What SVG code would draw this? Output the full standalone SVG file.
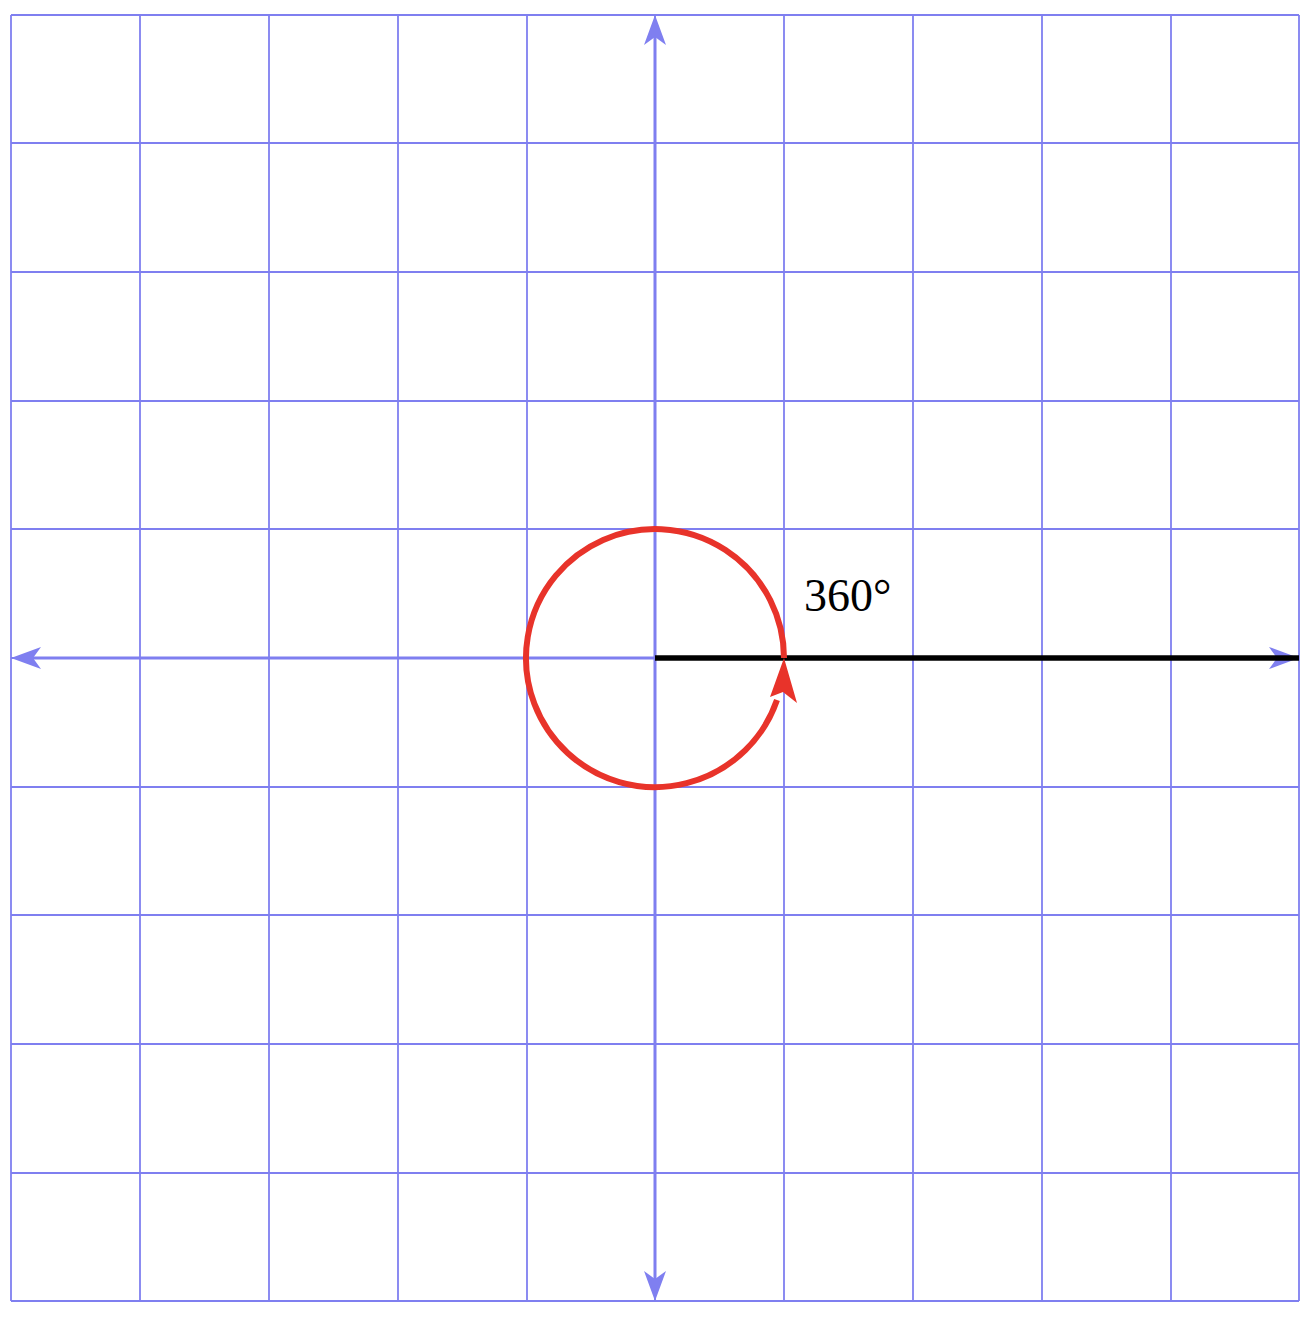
<svg xmlns="http://www.w3.org/2000/svg" width="1312" height="1318" viewBox="0 0 1312 1318">
<style>
.grid line{stroke:#7f7ff0;stroke-width:1.8}
.axis{stroke:#7f7ff0;stroke-width:3;fill:none}
.ah{fill:#7f7ff0}
.label{font-family:"Liberation Serif","DejaVu Serif",serif;font-size:46px;fill:#000}
</style>
<rect width="1312" height="1318" fill="#fff"/>
<g id="grid" class="grid">
<line x1="11" y1="15" x2="11" y2="1301"/>
<line x1="140" y1="15" x2="140" y2="1301"/>
<line x1="269" y1="15" x2="269" y2="1301"/>
<line x1="398" y1="15" x2="398" y2="1301"/>
<line x1="527" y1="15" x2="527" y2="1301"/>
<line x1="655" y1="15" x2="655" y2="1301"/>
<line x1="784" y1="15" x2="784" y2="1301"/>
<line x1="913" y1="15" x2="913" y2="1301"/>
<line x1="1042" y1="15" x2="1042" y2="1301"/>
<line x1="1171" y1="15" x2="1171" y2="1301"/>
<line x1="1299" y1="15" x2="1299" y2="1301"/>
<line x1="11" y1="15" x2="1299" y2="15"/>
<line x1="11" y1="143" x2="1299" y2="143"/>
<line x1="11" y1="272" x2="1299" y2="272"/>
<line x1="11" y1="401" x2="1299" y2="401"/>
<line x1="11" y1="529" x2="1299" y2="529"/>
<line x1="11" y1="658" x2="1299" y2="658"/>
<line x1="11" y1="787" x2="1299" y2="787"/>
<line x1="11" y1="915" x2="1299" y2="915"/>
<line x1="11" y1="1044" x2="1299" y2="1044"/>
<line x1="11" y1="1173" x2="1299" y2="1173"/>
<line x1="11" y1="1301" x2="1299" y2="1301"/>
</g>
<g id="axes">
<line class="axis" x1="30" y1="658" x2="1280" y2="658"/>
<line class="axis" x1="655" y1="34" x2="655" y2="1282"/>
<path class="ah" d="M11,658 L41,647 L33,658 L41,669 Z"/>
<path class="ah" d="M1299,658 L1269,647 L1277,658 L1269,669 Z"/>
<path class="ah" d="M655,15 L644,45 L655,37 L666,45 Z"/>
<path class="ah" d="M655,1301 L644,1271 L655,1279 L666,1271 Z"/>
</g>
<g id="ray">
<line x1="655" y1="658" x2="1299" y2="658" stroke="#000" stroke-width="5.5"/>
</g>
<g id="angle">
<path d="M784,658 A129,129 0 1 0 777,700" fill="none" stroke="#e8332a" stroke-width="6"/>
<path d="M784,658 L797,703 L783,692 L770,697 Z" fill="#e8332a"/>
</g>
<g id="label">
<text class="label" x="804" y="611">360°</text>
</g>
</svg>
